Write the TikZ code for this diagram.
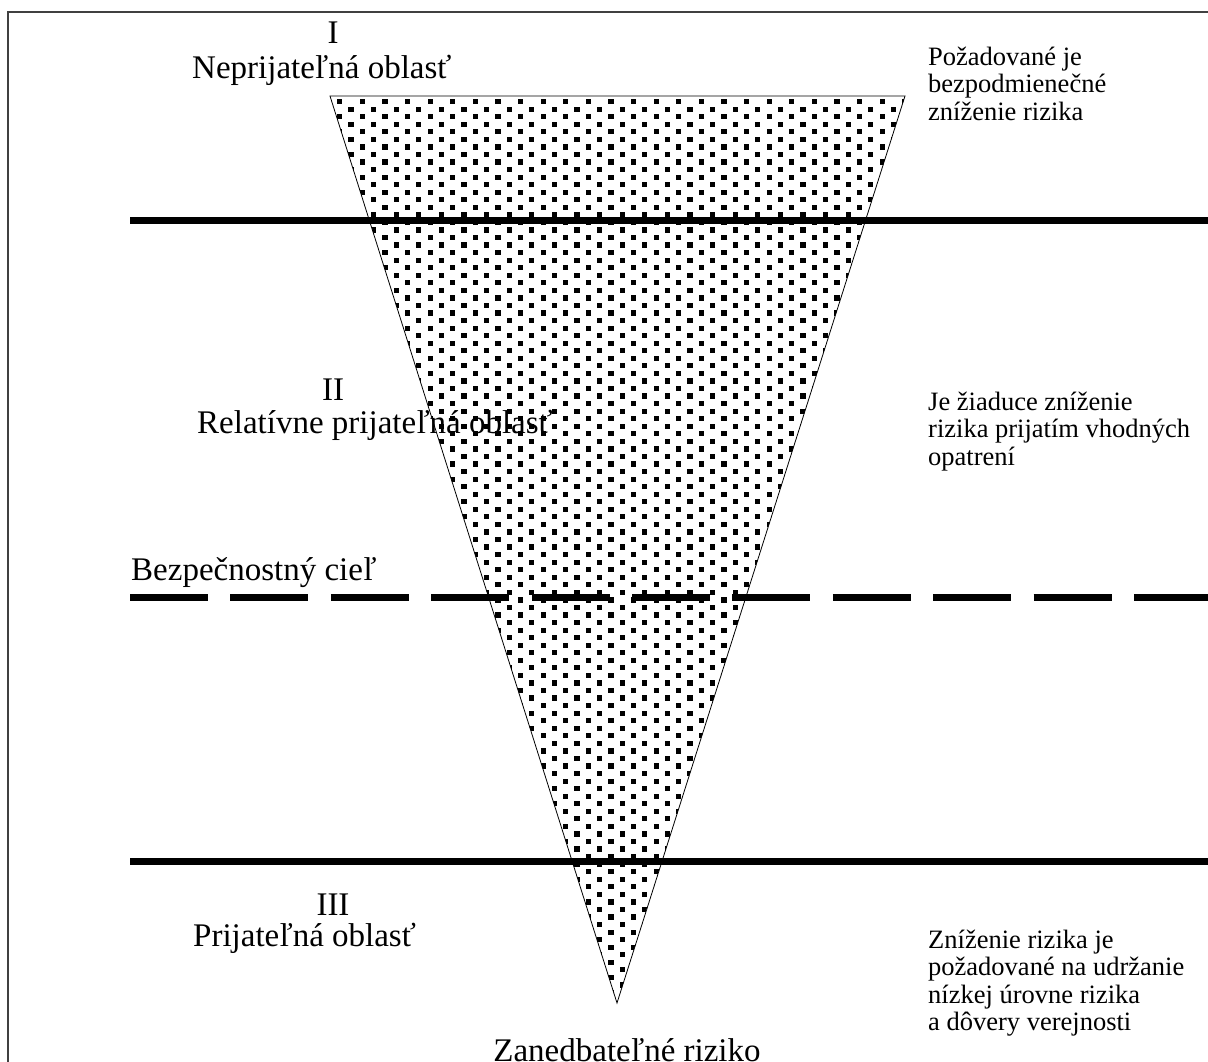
\documentclass[tikz,border=0pt]{standalone}
\usepackage{fontspec}
\setmainfont{Liberation Serif}
\newcommand{\biglabel}{\fontsize{33}{37}\selectfont}
\newcommand{\sidelabel}{\fontsize{26.5}{27.3}\selectfont}

\begin{document}
\begin{tikzpicture}[x=1pt, y=-1pt,
  title/.style={font=\biglabel, inner sep=0pt},
  note/.style={font=\sidelabel, align=left, anchor=north west, inner sep=0pt},
  level/.style={line width=7pt},
  goal/.style={line width=7pt, dash pattern=on 78pt off 22.4pt}]
\useasboundingbox (0,0) rectangle (1208,1061);
\clip (0,0) rectangle (1208,1061);
\draw[black!75, line width=2pt] (7.5,12) rectangle (1300,1200);
% risk triangle
\coordinate (TL) at (330,96);
\coordinate (TR) at (905,96);
\coordinate (Tip) at (617,1003);
\begin{scope}
\clip (TL) -- (TR) -- (Tip) -- cycle;
\foreach \r in {0,...,120} {
  \pgfmathsetmacro{\xs}{314.5+11.3*mod(\r,2)}
  \foreach \c in {0,...,27}
    \fill ({\xs+22.6*\c},{99+7.55*\r}) rectangle +(5.2,5.2);
}
\end{scope}
\draw[line width=0.8pt] (TL) -- (TR) -- (Tip) -- cycle;
% borders between regions
\coordinate (A1) at (130,220);
\coordinate (A2) at (1215,220);
\coordinate (G1) at (130,597);
\coordinate (G2) at (1215,597);
\coordinate (B1) at (130,861);
\coordinate (B2) at (1215,861);
\draw[level] (A1) -- (A2);
\draw[goal] (G1) -- (G2);
\draw[level] (B1) -- (B2);
% region labels
\node[title] (n1) at (333,33) {I};
\node[title, anchor=west] (r1) at (192,70) {Neprijateľná oblasť};
\node[title] (n2) at (333,390) {II};
\node[title, anchor=west] (r2) at (197,425) {Relatívne prijateľná oblasť};
\node[title, anchor=west] (goal) at (131,573) {Bezpečnostný cieľ};
\node[title] (n3) at (333,905) {III};
\node[title, anchor=west] (r3) at (193,938) {Prijateľná oblasť};
\node[title] (low) at (627,1050) {Zanedbateľné riziko};
% notes on the right
\node[note] (t1) at (928,47) {Požadované je\\bezpodmienečné\\zníženie rizika};
\node[note] (t2) at (928,392) {Je žiaduce zníženie\\rizika prijatím vhodných\\opatrení};
\node[note] (t3) at (928,930) {Zníženie rizika je\\požadované na udržanie\\nízkej úrovne rizika\\a dôvery verejnosti};
\end{tikzpicture}
\end{document}
